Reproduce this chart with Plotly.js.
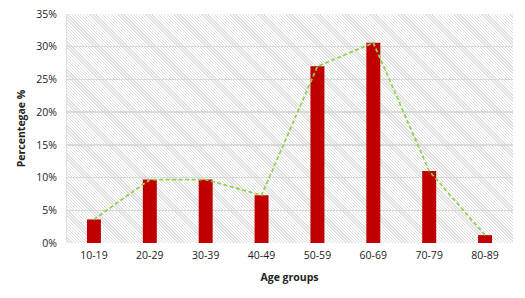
<!DOCTYPE html>
<html><head><meta charset="utf-8">
<script src="https://cdn.plot.ly/plotly-3.0.1.min.js"></script>
<style>
html,body{margin:0;padding:0;background:#fff;}
#wrap{position:relative;width:525px;height:298px;}
#hatch{position:absolute;left:66px;top:14px;width:447px;height:229px;
background:repeating-linear-gradient(45deg,#ffffff 0px,#ffffff 1.3px,#e0e0e0 1.3px,#e0e0e0 2.2px);
border-left:1px solid #e0e0e0;box-sizing:border-box;}
#chart{position:absolute;left:0;top:0;width:525px;height:298px;}
</style></head>
<body><div id="wrap"><div id="hatch"></div><div id="chart"></div></div>
<script>
const categories = ["10-19","20-29","30-39","40-49","50-59","60-69","70-79","80-89"];
const percentages = [3.6, 9.7, 9.7, 7.3, 27.0, 30.6, 11.0, 1.2];
const yTicks = [0,5,10,15,20,25,30,35];
const yTickLabels = yTicks.map(v => v + "%");

const font = {family: "Open Sans, Liberation Sans, sans-serif", size: 10.5, color: "#222"};
const data = [
  {type:"scatter", mode:"lines", x:categories, y:percentages,
   line:{color:"#92D050", width:1.8, dash:"4px,2.5px", shape:"linear"}, hoverinfo:"skip"},
  {type:"bar", x:categories, y:percentages, width:0.25,
   marker:{color:"#C00000", line:{width:0}}}
];
const layout = {
  width:525, height:298, showlegend:false,
  margin:{l:66, r:12, t:14, b:55},
  paper_bgcolor:"rgba(0,0,0,0)", plot_bgcolor:"rgba(0,0,0,0)",
  font:font,
  xaxis:{type:"category", showgrid:false, zeroline:false, showline:false,
         ticks:"", tickfont:{size:10.5}, ticklabelstandoff:4,
         title:{text:"<b>Age groups</b>", font:{size:10.5}, standoff:13}},
  yaxis:{range:[0,35], tickvals:yTicks, ticktext:yTickLabels,
         showgrid:true, gridcolor:"#d9d9d9", gridwidth:1.5, zeroline:false,
         showline:false, ticks:"", tickfont:{size:10.5}, ticklabelstandoff:8,
         title:{text:"<b>Percentegae %</b>", font:{size:10.5}, standoff:8}}
};
Plotly.newPlot("chart", data, layout, {displayModeBar:false, staticPlot:true});
</script></body></html>
